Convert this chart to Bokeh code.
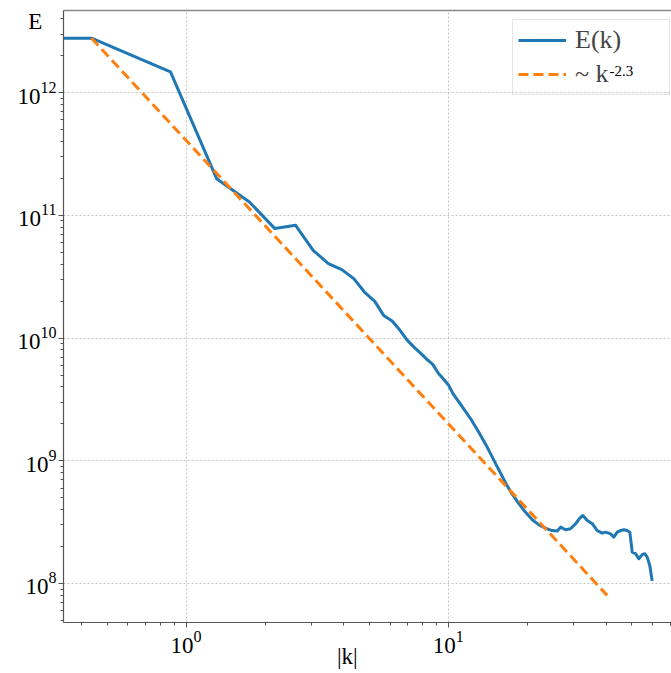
import numpy as np
from bokeh.plotting import figure
from bokeh.models import (Label, Legend, LegendItem, FixedTicker, LogAxis, Range1d)
from bokeh.embed import file_html
from bokeh.resources import INLINE

# ---------------- data ----------------
k_spec = [0.30, 0.436, 0.872, 1.308, 1.744, 2.18, 2.616, 3.052, 3.488, 3.924,
          4.36, 4.796, 5.232, 5.668, 6.104, 6.54, 6.976, 7.412, 7.848, 8.284,
          8.72, 9.156, 9.592, 10.028, 10.46, 11.34, 12.21, 13.08, 13.95, 15.26,
          16.57, 17.44, 18.31, 19.62, 20.93, 22.24, 23.55, 24.85, 26.02, 26.79,
          27.99, 29.24, 30.55, 31.92, 32.57, 33.85, 35.37, 36.95, 38.61, 39.74,
          41.52, 42.74, 44.03, 45.33, 46.66, 48.07, 49.18, 50.22, 51.69, 53.20,
          54.82, 56.08, 57.27, 58.60, 59.84]
E_spec = [2.78e12, 2.78e12, 1.475e12, 1.99e11, 1.285e11, 7.8e10, 8.3e10, 5.19e10, 4.04e10, 3.61e10,
          3.05e10, 2.36e10, 2.0e10, 1.53e10, 1.376e10, 1.156e10, 9.58e9, 8.40e9, 7.50e9, 6.70e9,
          6.10e9, 5.16e9, 4.61e9, 4.12e9, 3.47e9, 2.72e9, 2.17e9, 1.70e9, 1.334e9, 9.17e8,
          6.54e8, 5.42e8, 4.66e8, 3.84e8, 3.29e8, 2.99e8, 2.81e8, 2.70e8, 2.68e8, 2.88e8,
          2.74e8, 2.79e8, 3.07e8, 3.47e8, 3.58e8, 3.26e8, 3.07e8, 2.70e8, 2.57e8, 2.62e8,
          2.54e8, 2.39e8, 2.62e8, 2.70e8, 2.74e8, 2.70e8, 2.62e8, 1.80e8, 1.75e8, 1.59e8,
          1.72e8, 1.75e8, 1.64e8, 1.40e8, 1.05e8]

k_fit = [0.436, 40.3]
E_fit = [2.78e12, 8.0e7]

x_major = [0.1, 1, 10, 100]
y_major = [1e7, 1e8, 1e9, 1e10, 1e11, 1e12, 1e13]
legend_labels = ["E(k)", "~ k"]
fit_exponent = "-2.3"
x_label = "|k|"
y_label = "E"

# ---------------- styling ----------------
SERIF = "Liberation Serif"
BLUE = "#1f77b4"
ORANGE = "#ff7f0e"
AX = "#555555"

x_minor = [m * 10.0 ** e for e in range(-2, 3) for m in range(2, 10)]
y_minor = [m * 10.0 ** e for e in range(6, 14) for m in range(2, 10)]

p = figure(width=671, height=673, x_axis_type="log", y_axis_type="log",
           x_range=Range1d(0.341, 70.9), y_range=Range1d(4.81e7, 4.67e12),
           output_backend="svg", toolbar_location=None,
           min_border_left=63, min_border_right=0, min_border_top=10,
           min_border_bottom=51)
p.outline_line_color = None
p.background_fill_color = "white"
p.border_fill_color = "white"

xt = FixedTicker(ticks=x_major, minor_ticks=x_minor)
yt = FixedTicker(ticks=y_major, minor_ticks=y_minor)
p.xaxis.ticker = xt
p.yaxis.ticker = yt
p.xgrid.ticker = xt
p.ygrid.ticker = yt

for ax in (p.xaxis, p.yaxis):
    ax.axis_line_color = AX
    ax.axis_line_width = 1.2
    ax.major_tick_line_color = AX
    ax.minor_tick_line_color = AX
    ax.major_tick_out = 5
    ax.major_tick_in = 0
    ax.minor_tick_out = 3
    ax.minor_tick_in = 0
    ax.major_label_text_font = SERIF
    ax.major_label_text_font_size = "23px"
    ax.major_label_text_color = "black"
    ax.axis_label_text_font = SERIF
    ax.axis_label_text_font_style = "normal"
    ax.axis_label_text_color = "black"
p.yaxis.major_label_standoff = 2
p.xaxis.major_label_standoff = 3

p.yaxis.axis_label = "\n" + y_label
p.yaxis.axis_label_text_font_size = "23px"
p.yaxis.axis_label_text_line_height = 0.9
p.yaxis.axis_label_orientation = "horizontal"
p.yaxis.axis_label_align = "end"
p.yaxis.axis_label_standoff = -28

p.xaxis.axis_label = x_label + "\u00a0" * 7
p.xaxis.axis_label_text_font_size = "23px"
p.xaxis.axis_label_standoff = -12

top = LogAxis(ticker=FixedTicker(ticks=[]), axis_line_color="#888888",
              axis_line_width=1.5, major_tick_out=0, minor_tick_out=0,
              major_tick_in=0, minor_tick_in=0, major_label_standoff=0)
p.add_layout(top, "above")

for g in (p.xgrid, p.ygrid):
    g.grid_line_color = "#c4c4c4"
    g.grid_line_dash = "2 2"
    g.grid_line_width = 1

r1 = p.line(k_spec, E_spec, line_color=BLUE, line_width=3, line_join="round")
r2 = p.line(k_fit, E_fit, line_color=ORANGE, line_width=3, line_dash="10 5")

legend = Legend(items=[LegendItem(label=legend_labels[0], renderers=[r1]),
                       LegendItem(label=legend_labels[1], renderers=[r2])],
                location=(449, 527), padding=5, spacing=4, margin=0,
                glyph_width=48, glyph_height=30, label_height=30,
                label_width=89, label_standoff=9,
                label_text_font=SERIF, label_text_font_size="26px",
                border_line_color="#cccccc", border_line_width=1,
                background_fill_color="white", background_fill_alpha=0.0)
p.add_layout(legend)

p.add_layout(Label(x=546, y=552, x_units="screen", y_units="screen",
                   text=fit_exponent, text_font=SERIF, text_font_size="15px",
                   text_color="black", text_baseline="alphabetic", level="overlay"))

open("out.html", "w").write(file_html(p, INLINE))
